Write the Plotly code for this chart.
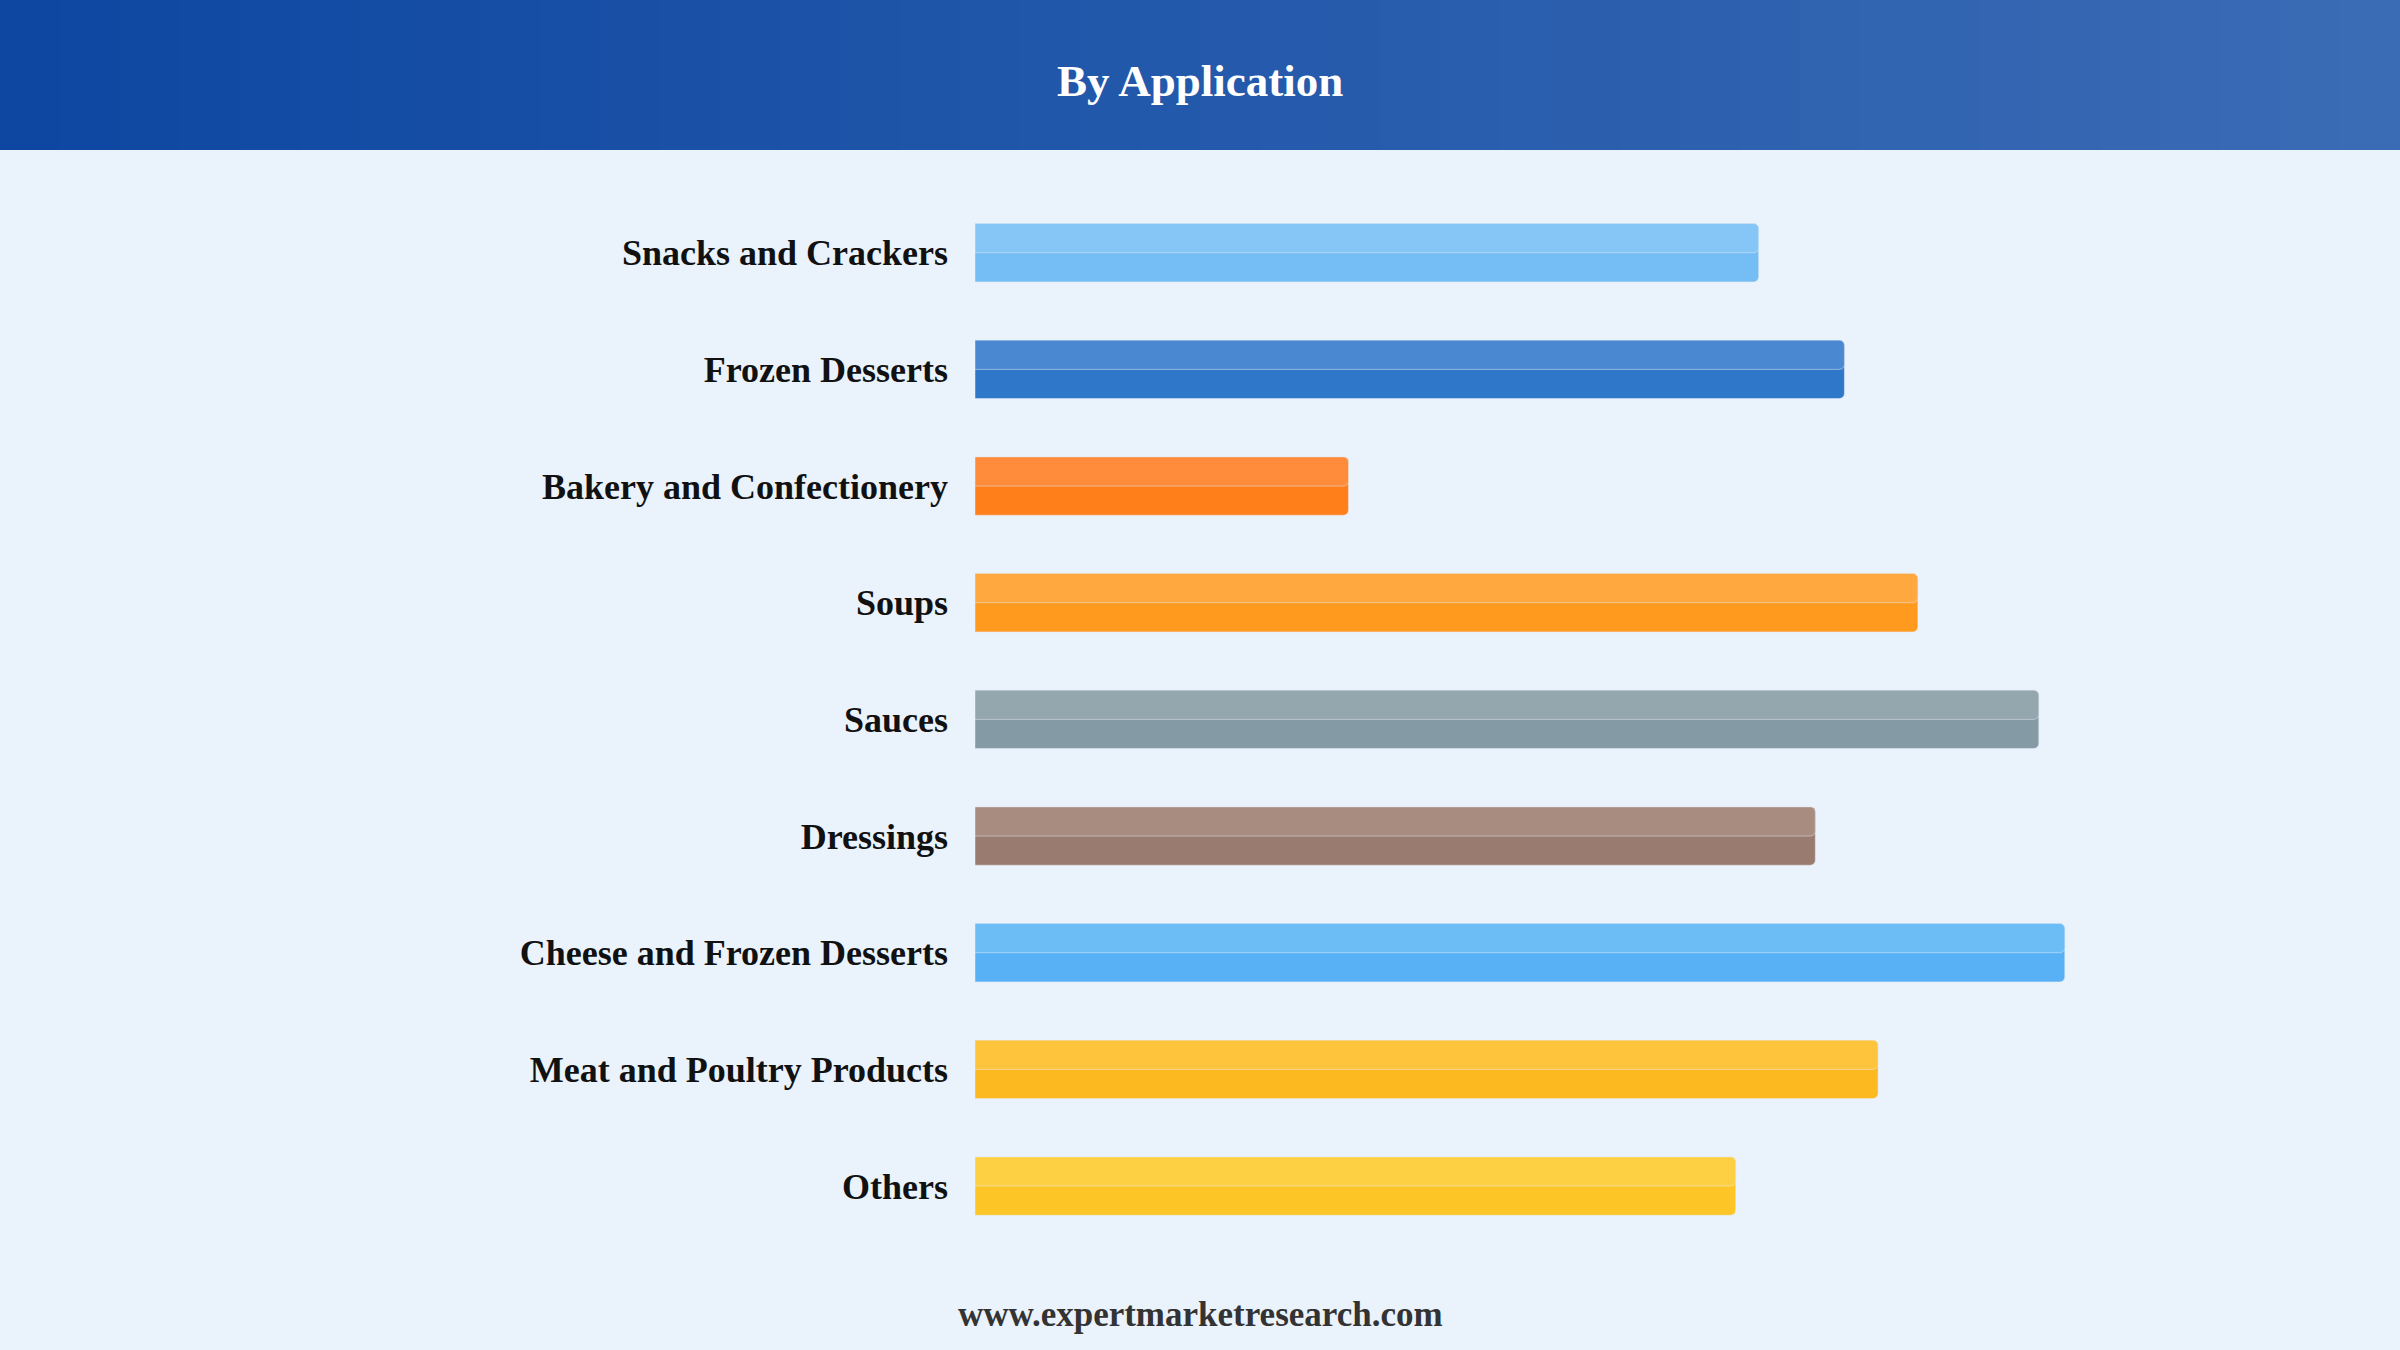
import plotly.graph_objects as go

# data
categories = ["Snacks and Crackers", "Frozen Desserts", "Bakery and Confectionery", "Soups",
              "Sauces", "Dressings", "Cheese and Frozen Desserts", "Meat and Poultry Products", "Others"]
values = [5.12, 5.68, 2.44, 6.16, 6.95, 5.49, 7.12, 5.90, 4.97]
colors = ["#74bdf5", "#2f78c9", "#ff7f1a", "#ff9a1f", "#849aa4", "#9a7b70", "#59b1f5", "#fcb920", "#fdc526"]
highlights = ["#86c6f6", "#4a89d1", "#ff8c3a", "#ffa83f", "#94a6ae", "#a88c80", "#6cbcf6", "#fdc43c", "#fdd044"]

fig = go.Figure()
# full bar (darker lower tone)
fig.add_trace(go.Bar(y=categories, x=values, orientation="h", marker_color=colors,
                     marker_cornerradius=5, width=0.5, offset=-0.25, hoverinfo="x+y"))
# upper lighter half
fig.add_trace(go.Bar(y=categories, x=values, orientation="h", marker_color=highlights,
                     marker_cornerradius=5, width=0.25, offset=-0.25, hoverinfo="skip"))

# header gradient
n = 40
c0, c1 = (13, 71, 161), (58, 107, 181)
shapes = []
for i in range(n):
    t = i / (n - 1)
    c = tuple(round(c0[k] + (c1[k] - c0[k]) * t) for k in range(3))
    shapes.append(dict(type="rect", xref="paper", yref="paper", x0=i / n, x1=(i + 1) / n + 0.002,
                       y0=1 - 98 / 882, y1=1, fillcolor=f"rgb{c}", line_width=0, layer="below"))

fig.update_layout(
    width=2400, height=1350,
    paper_bgcolor="#eaf2fc", plot_bgcolor="#eaf2fc",
    margin=dict(l=0, r=0, t=0, b=0),
    barmode="overlay", showlegend=False,
    shapes=shapes,
    font=dict(family="Liberation Serif", color="#111"),
    xaxis=dict(domain=[637 / 1568, 1.0], range=[0, 9.31], visible=False),
    yaxis=dict(domain=[1 - 813 / 882, 1 - 127 / 882], autorange="reversed",
               tickfont=dict(size=36, family="Liberation Serif", weight="bold", color="#111"),
               ticklabelstandoff=26, showgrid=False, zeroline=False, ticks=""),
    annotations=[
        dict(text="<b>By Application</b>", x=0.5, y=1 - 53 / 882, xref="paper", yref="paper",
             yanchor="middle", showarrow=False, font=dict(size=45, color="white", family="Liberation Serif")),
        dict(text="<b>www.expertmarketresearch.com</b>", x=0.5, y=1 - 859 / 882, xref="paper", yref="paper",
             yanchor="middle", showarrow=False, font=dict(size=35, color="#333", family="Liberation Serif")),
    ],
)

fig.write_html("out.html", config={"displayModeBar": False},
               post_script="document.body.style.margin='0';")
